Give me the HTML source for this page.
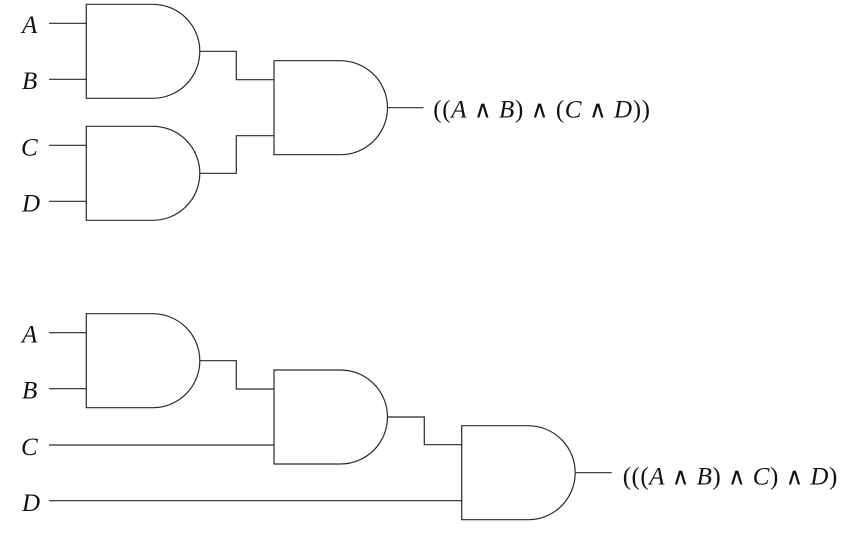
<!DOCTYPE html>
<html><head><meta charset="utf-8"><style>
html,body{margin:0;padding:0;background:#fff;}
svg{display:block;}
text{font-family:"Liberation Serif","DejaVu Serif",serif;font-size:25px;fill:#111;}
.i{font-style:italic;}
.w{font-family:"DejaVu Sans ExtraLight","DejaVu Sans Light","DejaVu Sans",sans-serif;font-weight:200;font-size:24px;}
</style></head><body>
<svg width="843" height="536" viewBox="0 0 843 536" xmlns="http://www.w3.org/2000/svg">
<g fill="none" stroke="#2a2a2a" stroke-width="1.2">
<!-- Top diagram -->
<path d="M86.3 4.3 H152.8 A47 47 0 0 1 152.8 98.3 H86.3 Z"/>
<path d="M86.3 126.3 H152.8 A47 47 0 0 1 152.8 220.3 H86.3 Z"/>
<path d="M274 60.7 H340.5 A47 47 0 0 1 340.5 154.7 H274 Z"/>
<path d="M49 23.3 H86.3 M49 79.3 H86.3 M49 145.3 H86.3 M49 201.3 H86.3"/>
<path d="M199.8 51.3 H236.3 V79.7 H274"/>
<path d="M199.8 173.3 H236.3 V135.7 H274"/>
<path d="M387.5 107.7 H423.5"/>
<!-- Bottom diagram -->
<path d="M86.3 313.7 H152.8 A47 47 0 0 1 152.8 407.7 H86.3 Z"/>
<path d="M274 370 H340.5 A47 47 0 0 1 340.5 464 H274 Z"/>
<path d="M461.7 425.7 H528.2 A47 47 0 0 1 528.2 519.7 H461.7 Z"/>
<path d="M49 332.7 H86.3 M49 388.7 H86.3"/>
<path d="M199.8 360.7 H236.3 V389 H274"/>
<path d="M49 445 H274"/>
<path d="M387.5 417 H424.3 V444.7 H461.7"/>
<path d="M49 500.7 H461.7"/>
<path d="M575.2 472.7 H611.7"/>
</g>
<!-- Labels top -->
<text class="i" x="22" y="33">A</text>
<text class="i" x="22" y="89">B</text>
<text class="i" x="21" y="155.5">C</text>
<text class="i" x="22" y="211.5">D</text>
<!-- Labels bottom -->
<text class="i" x="22" y="342.5">A</text>
<text class="i" x="22" y="398.5">B</text>
<text class="i" x="21" y="455">C</text>
<text class="i" x="22" y="511">D</text>
<!-- Output expressions -->
<text x="433.3" y="117.3" textLength="216.7" lengthAdjust="spacing">((<tspan class="i">A</tspan> <tspan class="w">∧</tspan> <tspan class="i">B</tspan>) <tspan class="w">∧</tspan> (<tspan class="i">C</tspan> <tspan class="w">∧</tspan> <tspan class="i">D</tspan>))</text>
<text x="622.7" y="484.3" textLength="214.6" lengthAdjust="spacing">(((<tspan class="i">A</tspan> <tspan class="w">∧</tspan> <tspan class="i">B</tspan>) <tspan class="w">∧</tspan> <tspan class="i">C</tspan>) <tspan class="w">∧</tspan> <tspan class="i">D</tspan>)</text>
</svg>
</body></html>
